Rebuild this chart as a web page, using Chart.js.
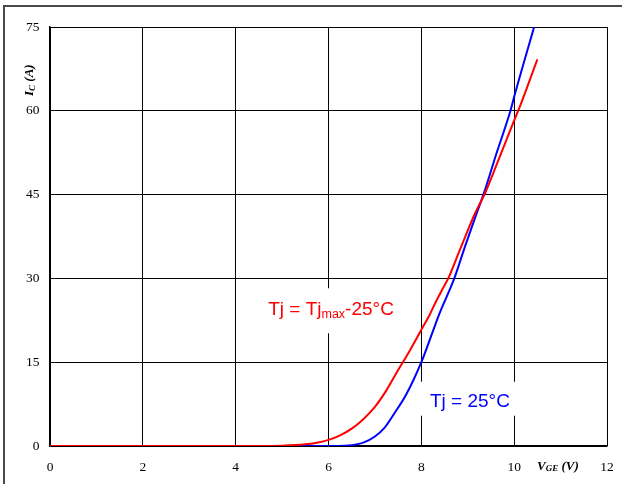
<!DOCTYPE html>
<html>
<head>
<meta charset="utf-8">
<script src="https://cdn.jsdelivr.net/npm/chart.js@4.4.1/dist/chart.umd.min.js"></script>
<style>
  html, body { margin: 0; padding: 0; background: #fff; }
  #wrap { width: 622px; height: 484px; position: relative; }
</style>
</head>
<body>
<div id="wrap"><canvas id="c" width="622" height="484"></canvas></div>
<script>
// ---- data (V_GE in V, I_C in A) ----
const hotVge = [0, 4.5, 5.0, 5.5, 5.75, 6.0, 6.25, 6.5, 6.75, 7.0, 7.25, 7.5, 7.76, 8.0, 8.18, 8.3, 8.45, 8.58, 8.83, 9.16, 9.37, 9.62, 10.0, 10.12, 10.5];
const hotIc  = [0, 0,   0.05, 0.3, 0.6, 1.1, 1.9, 3.1, 4.8, 7.0, 10.0, 13.6, 17.2, 20.8, 23.5, 25.6, 28.0, 30.0, 35.1, 41.7, 45.2, 50.3, 58.3, 60.7, 69.2];
const coldVge = [0, 6.2, 6.5, 6.75, 7.0, 7.2, 7.4, 7.68, 8.0, 8.26, 8.39, 8.71, 8.94, 9.19, 9.35, 9.62, 9.92, 10.0, 10.43];
const coldIc  = [0, 0,   0.15, 0.6, 1.7, 3.2, 5.6, 9.3, 15.0, 20.8, 23.7, 30.0, 35.7, 41.6, 45.3, 52.4, 60.0, 62.5, 75.0];
const xTicks = [0, 2, 4, 6, 8, 10, 12];
const yTicks = [0, 15, 30, 45, 60, 75];
const hotLabel = "Tj = Tj";
const hotLabelSub = "max";
const hotLabelEnd = "-25°C";
const coldLabel = "Tj = 25°C";

const toPts = (xs, ys) => xs.map((x, i) => ({x: x, y: ys[i]}));

const serif = "'Liberation Serif', 'Times New Roman', serif";
const sans = "'Liberation Sans', Arial, sans-serif";

const decor = {
  id: 'decor',
  beforeDraw(chart) {
    const ctx = chart.ctx;
    ctx.save();
    ctx.fillStyle = '#fff';
    ctx.fillRect(0, 0, chart.width, chart.height);
    ctx.strokeStyle = '#4a4a4a';
    ctx.lineWidth = 2;
    ctx.beginPath();
    ctx.moveTo(4, chart.height);
    ctx.lineTo(4, 6);
    ctx.lineTo(chart.width, 6);
    ctx.stroke();
    ctx.restore();
  },
  beforeDatasetsDraw(chart) {
    const ctx = chart.ctx;
    const xs = chart.scales.x, ys = chart.scales.y;
    ctx.save();
    let hx = xs.getPixelForValue(4.7), hy = ys.getPixelForValue(23.4);
    ctx.fillStyle = '#fff';
    ctx.fillRect(hx - 10, hy - 27, 142, 45);
    let cx = xs.getPixelForValue(8.186), cy = ys.getPixelForValue(7.03);
    ctx.fillRect(cx - 14, cy - 25, 104, 34);
    ctx.restore();
  },
  afterDraw(chart) {
    const ctx = chart.ctx;
    const xs = chart.scales.x, ys = chart.scales.y;
    ctx.save();
    let hx = xs.getPixelForValue(4.7), hy = ys.getPixelForValue(23.4);
    ctx.fillStyle = '#ff0000';
    ctx.textBaseline = 'alphabetic';
    ctx.textAlign = 'left';
    ctx.font = '19px ' + sans;
    ctx.fillText(hotLabel, hx, hy);
    let w = ctx.measureText(hotLabel).width;
    ctx.font = '12.5px ' + sans;
    ctx.fillText(hotLabelSub, hx + w, hy + 3);
    w += ctx.measureText(hotLabelSub).width;
    ctx.font = '19px ' + sans;
    ctx.fillText(hotLabelEnd, hx + w, hy);
    let cx = xs.getPixelForValue(8.186), cy = ys.getPixelForValue(7.03);
    ctx.fillStyle = '#0000ff';
    ctx.fillText(coldLabel, cx, cy);

    ctx.fillStyle = '#000';
    let tx = 537, ty = 470;
    ctx.font = 'italic bold 13px ' + serif;
    ctx.fillText('V', tx, ty);
    let tw = ctx.measureText('V').width;
    ctx.font = 'italic bold 9px ' + serif;
    ctx.fillText('GE', tx + tw, ty + 1);
    tw += ctx.measureText('GE').width;
    ctx.font = 'italic bold 13px ' + serif;
    ctx.fillText(' (V)', tx + tw, ty);

    ctx.translate(33, 96);
    ctx.rotate(-Math.PI / 2);
    ctx.font = 'italic bold 13px ' + serif;
    ctx.fillText('I', 0, 0);
    let yw = ctx.measureText('I').width;
    ctx.font = 'italic bold 9px ' + serif;
    ctx.fillText('C', yw, 2);
    yw += ctx.measureText('C').width;
    ctx.font = 'italic bold 13px ' + serif;
    ctx.fillText(' (A)', yw, 0);
    ctx.restore();
  }
};

new Chart(document.getElementById('c'), {
  type: 'scatter',
  data: {
    datasets: [
      {
        label: 'Tj = Tjmax-25°C',
        data: toPts(hotVge, hotIc),
        showLine: true,
        borderColor: '#ff0000',
        borderWidth: 2,
        pointRadius: 0,
        cubicInterpolationMode: 'monotone',
        fill: false
      },
      {
        label: 'Tj = 25°C',
        data: toPts(coldVge, coldIc),
        showLine: true,
        borderColor: '#0000ff',
        borderWidth: 2,
        pointRadius: 0,
        cubicInterpolationMode: 'monotone',
        fill: false
      }
    ]
  },
  options: {
    responsive: false,
    animation: false,
    devicePixelRatio: 1,
    layout: { padding: { top: 27, right: 15, left: 0, bottom: 0 } },
    plugins: { legend: { display: false }, tooltip: { enabled: false } },
    scales: {
      x: {
        type: 'linear',
        min: 0, max: 12,
        afterBuildTicks: s => { s.ticks = xTicks.map(v => ({value: v})); },
        afterFit: s => { s.height = 38; s.paddingRight = 0; s.paddingLeft = 0; },
        grid: { color: '#000', lineWidth: 1, drawTicks: false },
        border: { color: '#000', width: 1.5 },
        ticks: { color: '#000', font: { family: serif, size: 13.5 }, padding: 13, maxRotation: 0 }
      },
      y: {
        type: 'linear',
        min: 0, max: 75,
        afterBuildTicks: s => { s.ticks = yTicks.map(v => ({value: v})); },
        afterFit: s => { s.width = 50; s.paddingTop = 0; s.paddingBottom = 0; },
        grid: { color: '#000', lineWidth: 1, drawTicks: false },
        border: { color: '#000', width: 1.5 },
        ticks: { color: '#000', font: { family: serif, size: 13.5 }, padding: 10.5 }
      }
    }
  },
  plugins: [decor]
});
</script>
</body>
</html>
